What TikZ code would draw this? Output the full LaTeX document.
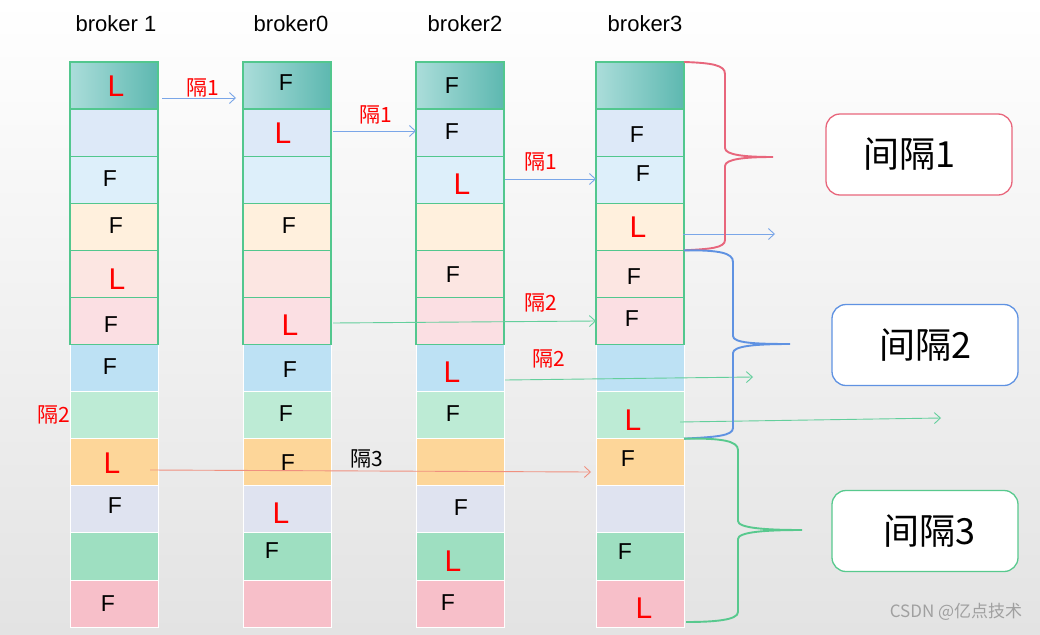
\documentclass[tikz,border=0pt]{standalone}
\usepackage{fontspec}
\setmainfont{Liberation Sans}
\newfontfamily\cjk{Noto Sans CJK SC}
\usetikzlibrary{arrows.meta}
\definecolor{bggray}{HTML}{E3E3E3}
\definecolor{cellgreen}{HTML}{52C78E}
\definecolor{rOneL}{HTML}{ABDDDA}
\definecolor{rOneR}{HTML}{5DB8B0}
\definecolor{rTwo}{HTML}{DDE9F8}
\definecolor{rThree}{HTML}{DDEFFA}
\definecolor{rFour}{HTML}{FFF0DD}
\definecolor{rFive}{HTML}{FCE6E2}
\definecolor{rSix}{HTML}{FBDFE3}
\definecolor{rSeven}{HTML}{BDE1F4}
\definecolor{rEight}{HTML}{BDEBD5}
\definecolor{rNine}{HTML}{FDD699}
\definecolor{rTen}{HTML}{DFE3F0}
\definecolor{rEleven}{HTML}{9EDFC1}
\definecolor{rTwelve}{HTML}{F7BFC9}
\definecolor{braceRed}{HTML}{E8667C}
\definecolor{braceBlue}{HTML}{5F92E2}
\definecolor{braceGreen}{HTML}{58C98E}
\definecolor{arrBlue}{HTML}{7AA6E8}
\definecolor{arrGreen}{HTML}{63CF9C}
\definecolor{arrRed}{HTML}{F0907F}
\definecolor{wm}{HTML}{A0A0A0}
\tikzset{
  cellbox/.style={minimum width=88pt, minimum height=47.08pt, inner sep=0pt, outer sep=0pt},
  topcell/.style={cellbox, draw=cellgreen, line width=1.1pt},
  botcell/.style={cellbox, draw=white, line width=0.7pt},
  ff/.style={font=\fontsize{23}{23}\selectfont, text=black, inner sep=0pt},
  fl/.style={font=\fontsize{30}{30}\selectfont, text=red, inner sep=0pt},
  head/.style={font=\fontsize{22}{22}\selectfont, text=black, inner sep=0pt},
  gap/.style={font=\cjk\fontsize{21}{21}\selectfont, text=red, inner sep=0pt},
  arr/.style={line width=0.9pt, -{Straight Barb[length=6pt,width=11pt]}},
  brace/.style={line width=1.9pt},
  bigbox/.style={rounded corners=14pt, fill=white, line width=1.3pt, minimum width=186pt, minimum height=81pt, font=\cjk\fontsize{36}{36}\selectfont}
}
\begin{document}
\begin{tikzpicture}[x=1pt,y=-1pt]
\useasboundingbox (0,0) rectangle (1040,634);
\fill[top color=white, bottom color=bggray] (0,0) rectangle (1040,634);
% headers
\node[head] (h1) at (116,24) {broker 1};
\node[head] (h2) at (291,24) {broker0};
\node[head] (h3) at (465,24) {broker2};
\node[head] (h4) at (645,24) {broker3};
% lower rows
\foreach \r/\cl in {7/rSeven,8/rEight,9/rNine,10/rTen,11/rEleven,12/rTwelve}
  \foreach \c/\x in {1/114,2/287,3/460,4/640}
    \node[botcell, fill=\cl] (c\c-\r) at (\x,{62+47.08*(\r-0.5)}) {};
% upper rows
\foreach \r/\cl in {2/rTwo,3/rThree,4/rFour,5/rFive,6/rSix}
  \foreach \c/\x in {1/114,2/287,3/460,4/640}
    \node[topcell, fill=\cl] (c\c-\r) at (\x,{62+47.08*(\r-0.5)}) {};
\foreach \c/\x in {1/114,2/287,3/460,4/640}
  \node[topcell, left color=rOneL, right color=rOneR] (c\c-1) at (\x,85.5) {};
% column 1 letters
\node[fl] (t1a) at (116,86) {L};
\node[ff] (t1b) at (110,179) {F};
\node[ff] (t1c) at (116,226) {F};
\node[fl] (t1d) at (117,279) {L};
\node[ff] (t1e) at (111,325) {F};
\node[ff] (t1f) at (110,367) {F};
\node[fl] (t1g) at (112,463) {L};
\node[ff] (t1h) at (115,506) {F};
\node[ff] (t1i) at (108,604) {F};
% column 2
\node[ff] (t2a) at (286,83) {F};
\node[fl] (t2b) at (283,133) {L};
\node[ff] (t2c) at (289,226) {F};
\node[fl] (t2d) at (290,325) {L};
\node[ff] (t2e) at (290,370) {F};
\node[ff] (t2f) at (286,414) {F};
\node[ff] (t2g) at (288,463) {F};
\node[fl] (t2h) at (281,513) {L};
\node[ff] (t2i) at (272,551) {F};
% column 3
\node[ff] (t3a) at (452,86) {F};
\node[ff] (t3b) at (452,132) {F};
\node[fl] (t3c) at (462,184) {L};
\node[ff] (t3d) at (453,275) {F};
\node[fl] (t3e) at (452,372) {L};
\node[ff] (t3f) at (453,414) {F};
\node[ff] (t3g) at (461,508) {F};
\node[fl] (t3h) at (453,561) {L};
\node[ff] (t3i) at (448,603) {F};
% column 4
\node[ff] (t4a) at (637,135) {F};
\node[ff] (t4b) at (643,174) {F};
\node[fl] (t4c) at (638,227) {L};
\node[ff] (t4d) at (634,277) {F};
\node[ff] (t4e) at (632,319) {F};
\node[fl] (t4i) at (633,420) {L};
\node[ff] (t4f) at (628,459) {F};
\node[ff] (t4g) at (625,552) {F};
\node[fl] (t4h) at (644,608) {L};
% arrow end points
\coordinate (a1s) at (162,98);  \coordinate (a1e) at (236,98);
\coordinate (a2s) at (333,131); \coordinate (a2e) at (416,131);
\coordinate (a3s) at (505,179); \coordinate (a3e) at (596,179);
\coordinate (a4s) at (683,234); \coordinate (a4e) at (775,234);
\coordinate (g1s) at (333,323); \coordinate (g1e) at (596,321);
\coordinate (g2s) at (505,380); \coordinate (g2e) at (753,377);
\coordinate (g3s) at (680,422); \coordinate (g3e) at (941,418);
\coordinate (r1s) at (150,470); \coordinate (r1e) at (591,472);
\draw[arr, arrBlue] (a1s) -- (a1e);
\draw[arr, arrBlue] (a2s) -- (a2e);
\draw[arr, arrBlue] (a3s) -- (a3e);
\draw[arr, arrBlue] (a4s) -- (a4e);
\draw[arr, arrGreen] (g1s) -- (g1e);
\draw[arr, arrGreen] (g2s) -- (g2e);
\draw[arr, arrGreen] (g3s) -- (g3e);
\draw[arr, arrRed] (r1s) -- (r1e);
% arrow labels
\node[gap] (l1) at (203,88) {隔1};
\node[gap] (l2) at (376,115) {隔1};
\node[gap] (l3) at (541,162) {隔1};
\node[gap] (l4) at (541,303) {隔2};
\node[gap] (l5) at (549,359) {隔2};
\node[gap, text=black] (l6) at (367,459) {隔3};
\node[gap] (l7) at (54,415) {隔2};
% braces
\draw[brace, braceRed] (c4-1.north east) .. controls (712,63) and (725,65) .. (725,74) -- (725,148)
  .. controls (725,155) and (745,157) .. (773,157)
  .. controls (745,157) and (725,159) .. (725,166) -- (725,240)
  .. controls (725,248) and (710,249) .. (c4-5.north east);
\draw[brace, braceBlue] (c4-5.north east) .. controls (720,250) and (733,253) .. (733,262) -- (733,336)
  .. controls (733,343) and (755,344) .. (790,344)
  .. controls (755,344) and (733,346) .. (733,353) -- (733,428)
  .. controls (733,436) and (715,437) .. (c4-9.north east);
\draw[brace, braceGreen] (c4-9.north east) .. controls (722,438) and (738,441) .. (738,450) -- (738,521)
  .. controls (738,528) and (765,530) .. (802,530)
  .. controls (765,530) and (738,532) .. (738,539) -- (738,612)
  .. controls (738,620) and (715,622) .. (686,622);
% boxes
\node[bigbox, draw=braceRed] (b1) at (919,154.5) {\hspace*{-20pt}间隔1};
\node[bigbox, draw=braceBlue] (b2) at (925,345) {间隔2};
\node[bigbox, draw=braceGreen] (b3) at (925,531) {\hspace*{8pt}间隔3};
% watermark
\node[font=\cjk\fontsize{17}{17}\selectfont, text=wm, inner sep=0pt] (wmk) at (956,612) {CSDN @亿点技术};
\end{tikzpicture}
\end{document}
